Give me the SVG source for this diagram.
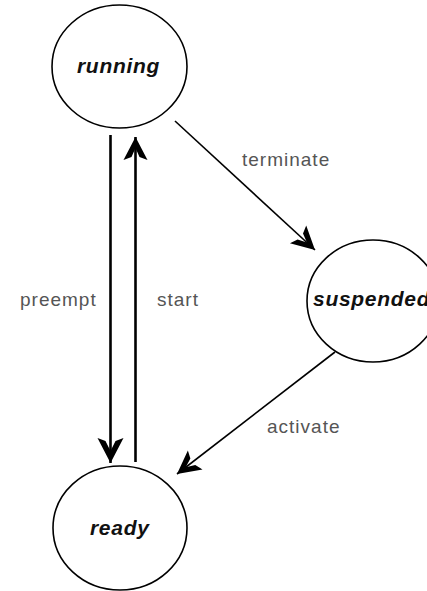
<svg xmlns="http://www.w3.org/2000/svg" width="427" height="591" viewBox="0 0 427 591">
  <style>
    .state { fill: #ffffff; stroke: #000000; stroke-width: 1.6; }
    .state-label { font-family: "Liberation Sans", Arial, sans-serif; font-size: 21px; font-weight: bold; font-style: italic; fill: #111111; letter-spacing: 0.7px; }
    .edge { fill: none; stroke: #000000; }
    .edge.heavy { stroke-width: 2.6; }
    .edge.light { stroke-width: 1.6; }
    .edge-label { font-family: "Liberation Sans", Arial, sans-serif; font-size: 19px; fill: #555555; letter-spacing: 1px; }
  </style>
  <defs>
    <!-- barbed arrowhead, tip at the path end -->
    <marker id="barb" markerUnits="userSpaceOnUse" markerWidth="32" markerHeight="32" viewBox="-28 -16 32 32" refX="0" refY="0" orient="auto">
      <polygon points="0,0 -25,-13 -22,-5 -12,0 -22,5 -25,13" fill="#000000"/>
    </marker>
    <marker id="barb-small" markerUnits="userSpaceOnUse" markerWidth="32" markerHeight="32" viewBox="-28 -16 32 32" refX="0" refY="0" orient="auto">
      <polygon points="0,0 -23,-12 -20,-4 -11,0 -20,4 -23,12" fill="#000000"/>
    </marker>
  </defs>

  <rect width="427" height="591" fill="#ffffff"/>

  <g id="connectors">
    <g id="edge-preempt">
      <line class="edge heavy" x1="110.5" y1="135" x2="110.5" y2="463" marker-end="url(#barb)"/>
      <text class="edge-label" x="20" y="306">preempt</text>
    </g>
    <g id="edge-start">
      <line class="edge heavy" x1="135.5" y1="462" x2="135.5" y2="137" marker-end="url(#barb-small)"/>
      <text class="edge-label" x="157" y="306">start</text>
    </g>
    <g id="edge-terminate">
      <line class="edge light" x1="175" y1="121" x2="315" y2="250" marker-end="url(#barb-small)"/>
      <text class="edge-label" x="242" y="166">terminate</text>
    </g>
    <g id="edge-activate">
      <line class="edge light" x1="335" y1="352" x2="177" y2="474" marker-end="url(#barb-small)"/>
      <text class="edge-label" x="267" y="433">activate</text>
    </g>
  </g>

  <g id="node-running">
    <ellipse class="state" cx="119.5" cy="66.5" rx="67.5" ry="61.5"/>
    <text class="state-label" x="77" y="73">running</text>
  </g>

  <g id="node-suspended">
    <ellipse class="state" cx="373" cy="301" rx="66" ry="61"/>
    <text class="state-label" x="313" y="306">suspended</text>
  </g>

  <g id="node-ready">
    <ellipse class="state" cx="120" cy="528" rx="67" ry="62"/>
    <text class="state-label" x="90" y="535">ready</text>
  </g>
</svg>
